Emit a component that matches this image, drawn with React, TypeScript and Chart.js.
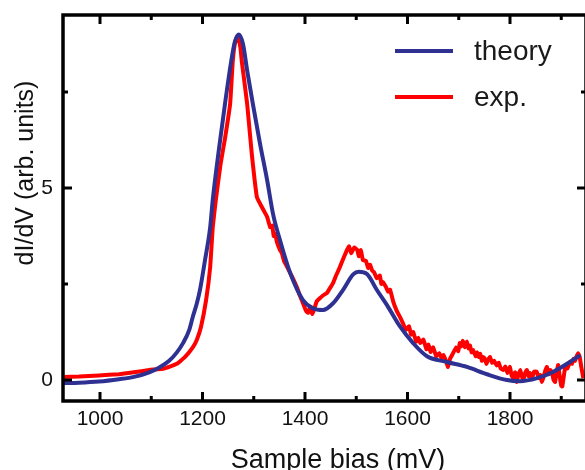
import React, { useEffect, useRef } from 'react';
import { Chart, registerables } from 'chart.js';

Chart.register(...registerables);

const FONT = '"Liberation Sans", Arial, Helvetica, sans-serif';

// Theory curve (blue)
const theoryBias = [928, 959, 998, 1037, 1066, 1096, 1115, 1135, 1150, 1162, 1174, 1181, 1189, 1195, 1205, 1215, 1220, 1232, 1244, 1256, 1263, 1271, 1279, 1287, 1298, 1312, 1326, 1338, 1351, 1371, 1396, 1415, 1435, 1455, 1474, 1494, 1505, 1521, 1540, 1560, 1585, 1611, 1638, 1677, 1716, 1755, 1794, 1819, 1853, 1884, 1917, 1937];
const theoryValues = [-0.08, -0.07, -0.04, 0.02, 0.08, 0.2, 0.32, 0.5, 0.72, 0.96, 1.3, 1.64, 2.0, 2.34, 3.13, 3.98, 4.69, 6.0, 7.2, 8.3, 8.8, 9.0, 8.75, 8.07, 7.21, 6.17, 5.21, 4.3, 3.65, 2.79, 2.08, 1.87, 1.82, 2.0, 2.34, 2.75, 2.82, 2.76, 2.35, 1.95, 1.4, 0.96, 0.62, 0.47, 0.34, 0.15, 0.0, -0.03, 0.05, 0.21, 0.47, 0.65];

// Experimental curve (red)
const expBias = [
  928, 959, 998, 1037, 1066, 1096, 1125, 1150, 1166, 1181, 1189, 1197, 1207, 1215, 1220, 1226, 1235, 1244, 1254, 1259,
  1263, 1267, 1271, 1274, 1277, 1287, 1296, 1306, 1312, 1320, 1326, 1332, 1336, 1339, 1342, 1345, 1351, 1355, 1359, 1365,
  1371, 1378, 1384, 1390, 1396, 1402, 1406, 1410, 1414, 1418, 1423, 1429, 1435, 1443, 1449, 1455, 1460, 1468, 1476, 1482,
  1486, 1490, 1496, 1502, 1505, 1509, 1513, 1519, 1523, 1527, 1531, 1535, 1540, 1546, 1549, 1552, 1558, 1562, 1566, 1572,
  1579, 1585, 1591, 1597, 1603, 1607, 1611, 1617, 1621, 1625, 1631, 1637, 1641, 1645, 1650, 1656, 1662, 1666, 1670, 1675,
  1679, 1683, 1689, 1695, 1699, 1702, 1705, 1708, 1712, 1716, 1719, 1722, 1725, 1728, 1733, 1736, 1739, 1742, 1745, 1748,
  1751, 1754, 1757, 1761, 1765, 1769, 1774, 1778, 1782, 1787, 1791, 1795, 1800, 1803, 1806, 1810, 1813, 1816, 1820, 1823,
  1826, 1830, 1833, 1836, 1839, 1843, 1847, 1852, 1856, 1859, 1862, 1866, 1869, 1872, 1876, 1879, 1882, 1885, 1888, 1891,
  1894, 1897, 1900, 1902, 1905, 1908, 1912, 1917, 1921, 1924, 1927, 1930, 1933, 1936, 1939, 1941, 1943,
];
const expValues = [
  0.08, 0.09, 0.12, 0.15, 0.2, 0.26, 0.3, 0.42, 0.6, 0.85, 1.05, 1.38, 2.08, 2.94, 3.98, 4.69, 5.6, 6.3, 7.2, 8.3,
  8.75, 8.93, 8.85, 8.65, 8.26, 7.21, 5.91, 4.77, 4.6, 4.4, 4.25, 3.98, 4.02, 3.75, 3.8, 3.6, 3.39, 3.3, 3.1, 2.95,
  2.79, 2.6, 2.42, 2.2, 2.0, 1.8, 1.75, 1.9, 1.72, 1.85, 2.05, 2.13, 2.2, 2.27, 2.4, 2.53, 2.7, 2.94, 3.2, 3.39,
  3.48, 3.3, 3.45, 3.39, 3.22, 3.38, 3.12, 3.1, 2.92, 3.0, 2.85, 2.8, 2.65, 2.72, 2.5, 2.55, 2.42, 2.3, 2.35, 2.05,
  1.8, 1.65, 1.48, 1.3, 1.4, 1.18, 1.25, 1.0, 1.1, 0.96, 1.05, 0.8, 0.92, 0.73, 0.85, 0.62, 0.7, 0.58, 0.65, 0.5,
  0.34, 0.55, 0.7, 0.85, 0.75, 0.96, 0.88, 1.02, 0.85, 1.0, 0.82, 0.9, 0.72, 0.78, 0.62, 0.72, 0.6, 0.68, 0.5, 0.6,
  0.55, 0.42, 0.52, 0.6, 0.45, 0.5, 0.38, 0.45, 0.3, 0.26, 0.35, 0.18, 0.34, 0.12, 0.06, 0.2, -0.05, 0.12, 0.26, 0.1,
  0.0, 0.2, 0.26, 0.1, 0.18, 0.05, 0.22, 0.22, 0.05, 0.13, -0.05, 0.1, 0.25, 0.34, 0.15, 0.26, 0.2, 0.0, -0.05, 0.2,
  0.39, 0.1, -0.15, -0.17, 0.1, 0.34, 0.3, 0.47, 0.42, 0.55, 0.5, 0.62, 0.7, 0.6, 0.35, 0.2, 0.05,
];

const xMajorTicks = [1000, 1200, 1400, 1600, 1800];
const xMinorTicks = [1100, 1300, 1500, 1700, 1900];
const yMajorTicks = [0, 5];
const yMinorTicks = [2.5, 7.5];

const seriesLabels = ['theory', 'exp.'];
const seriesColors = ['#2E3192', '#FF0000'];
const xTitle = 'Sample bias (mV)';
const yTitle = 'dI/dV (arb. units)';

const framePlugin = {
  id: 'frameTicksTitles',
  afterDraw(chart: any) {
    const ctx = chart.ctx as CanvasRenderingContext2D;
    const { left, right, top, bottom } = chart.chartArea;
    const xs = chart.scales.x;
    const ys = chart.scales.y;
    ctx.save();
    ctx.strokeStyle = '#000';
    ctx.lineCap = 'butt';
    ctx.lineWidth = 3;
    const major = 9;
    const minor = 5;
    const xt = (v: number, len: number) => {
      const px = xs.getPixelForValue(v);
      ctx.beginPath();
      ctx.moveTo(px, bottom);
      ctx.lineTo(px, bottom - len);
      ctx.moveTo(px, top);
      ctx.lineTo(px, top + len);
      ctx.stroke();
    };
    const yt = (v: number, len: number) => {
      const py = ys.getPixelForValue(v);
      ctx.beginPath();
      ctx.moveTo(left, py);
      ctx.lineTo(left + len, py);
      ctx.moveTo(right, py);
      ctx.lineTo(right - len, py);
      ctx.stroke();
    };
    xMajorTicks.forEach((v) => xt(v, major));
    xMinorTicks.forEach((v) => xt(v, minor));
    yMajorTicks.forEach((v) => yt(v, major));
    yMinorTicks.forEach((v) => yt(v, minor));
    ctx.lineWidth = 3.5;
    ctx.strokeRect(left, top, right - left, bottom - top);

    ctx.fillStyle = '#111';
    ctx.font = `27px ${FONT}`;
    ctx.textAlign = 'center';
    ctx.textBaseline = 'alphabetic';
    ctx.fillText(xTitle, 338, 468);
    ctx.save();
    ctx.translate(33, 173);
    ctx.rotate(-Math.PI / 2);
    ctx.font = `25px ${FONT}`;
    ctx.fillText(yTitle, 0, 0);
    ctx.restore();

    const rows = [51, 97];
    chart.data.datasets.forEach((ds: any, i: number) => {
      const y = rows[i];
      ctx.strokeStyle = ds.borderColor;
      ctx.lineWidth = 4;
      ctx.beginPath();
      ctx.moveTo(395, y);
      ctx.lineTo(453, y);
      ctx.stroke();
      ctx.fillStyle = '#1a1a1a';
      ctx.font = `28px ${FONT}`;
      ctx.textAlign = 'left';
      ctx.textBaseline = 'alphabetic';
      ctx.fillText(ds.label, 474, y + 9);
    });
    ctx.restore();
  },
};

export default function App() {
  const canvasRef = useRef<HTMLCanvasElement | null>(null);

  useEffect(() => {
    if (!canvasRef.current) return;
    const chart = new Chart(canvasRef.current, {
      type: 'line',
      data: {
        datasets: [
          {
            label: seriesLabels[0],
            data: theoryBias.map((x, i) => ({ x, y: theoryValues[i] })),
            borderColor: seriesColors[0],
            borderWidth: 4,
            pointRadius: 0,
            fill: false,
            cubicInterpolationMode: 'monotone',
          },
          {
            label: seriesLabels[1],
            data: expBias.map((x, i) => ({ x, y: expValues[i] })),
            borderColor: seriesColors[1],
            borderWidth: 4,
            pointRadius: 0,
            fill: false,
            tension: 0.1,
          },
        ],
      },
      options: {
        responsive: false,
        animation: false,
        devicePixelRatio: 1,
        layout: { padding: { top: 15, right: 14, left: 0, bottom: 0 } },
        plugins: { legend: { display: false }, tooltip: { enabled: false } },
        scales: {
          x: {
            type: 'linear',
            min: 927.8,
            max: 1948.3,
            grid: { display: false, drawTicks: false },
            border: { display: false },
            ticks: {
              padding: 6,
              color: '#111',
              autoSkip: false,
              maxRotation: 0,
              minRotation: 0,
              font: { family: FONT, size: 21 },
              callback: (v: any) => String(v),
            },
            afterBuildTicks: (s: any) => {
              s.ticks = xMajorTicks.map((v) => ({ value: v }));
            },
            afterFit: (s: any) => {
              s.height = 69;
              s.paddingLeft = 0;
              s.paddingRight = 0;
            },
          },
          y: {
            type: 'linear',
            min: -0.547,
            max: 9.505,
            grid: { display: false, drawTicks: false },
            border: { display: false },
            ticks: {
              padding: 10,
              color: '#111',
              autoSkip: false,
              font: { family: FONT, size: 21 },
              callback: (v: any) => String(v),
            },
            afterBuildTicks: (s: any) => {
              s.ticks = yMajorTicks.map((v) => ({ value: v }));
            },
            afterFit: (s: any) => {
              s.width = 63;
              s.paddingTop = 0;
              s.paddingBottom = 0;
            },
          },
        },
      },
      plugins: [framePlugin],
    } as any);
    return () => chart.destroy();
  }, []);

  return (
    <div
      style={{
        position: 'fixed',
        left: 0,
        top: 0,
        width: 585,
        height: 470,
        overflow: 'hidden',
        background: '#fff',
      }}
    >
      <canvas ref={canvasRef} width={600} height={470} style={{ display: 'block' }} />
    </div>
  );
}
